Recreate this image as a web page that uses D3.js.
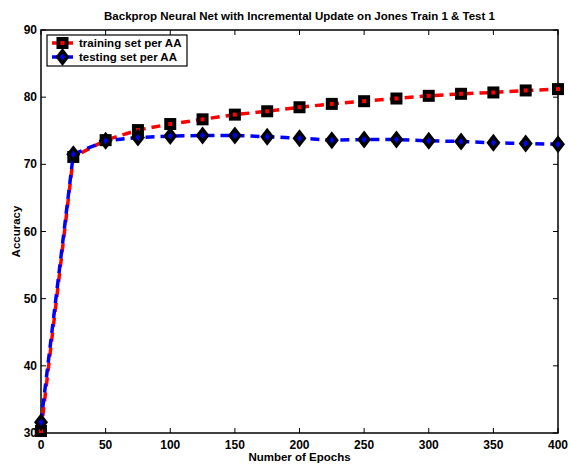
<!DOCTYPE html>
<html lang="en">
<head>
<meta charset="utf-8">
<title>Backprop Neural Net</title>
<script src="https://cdn.jsdelivr.net/npm/d3@7"></script>
<style>
  body { margin: 0; background: #fff; }
  text { font-family: "Liberation Sans", Arial, sans-serif; font-weight: bold; }
</style>
</head>
<body>
<script>
// data
var epochs   = [0, 25, 50, 75, 100, 125, 150, 175, 200, 225, 250, 275, 300, 325, 350, 375, 400];
var training = [30.3, 71.1, 73.6, 75.1, 76.0, 76.7, 77.4, 77.9, 78.5, 79.0, 79.4, 79.8, 80.2, 80.5, 80.7, 81.0, 81.2];
var testing  = [31.6, 71.5, 73.5, 74.0, 74.2, 74.3, 74.3, 74.1, 73.9, 73.6, 73.7, 73.7, 73.5, 73.4, 73.2, 73.1, 73.0];
var xTicks = [0, 50, 100, 150, 200, 250, 300, 350, 400];
var yTicks = [30, 40, 50, 60, 70, 80, 90];
var seriesNames = ["training set per AA", "testing set per AA"];

var w = 571, h = 464;
// plot box edges (don't use "top" - it's window.top)
var pLeft = 41, pRight = 558, pTop = 30, pBottom = 433;

var svg = d3.select("body").append("svg")
    .attr("width", w).attr("height", h);

var x = d3.scaleLinear().domain([0, 400]).range([pLeft, pRight]);
var y = d3.scaleLinear().domain([30, 90]).range([pBottom, pTop]);

// axes box
svg.append("rect")
    .attr("x", pLeft).attr("y", pTop)
    .attr("width", pRight - pLeft).attr("height", pBottom - pTop)
    .attr("fill", "none").attr("stroke", "#000").attr("stroke-width", 1.5);

// inward ticks on all four sides
var tl = 5;
xTicks.forEach(function(t) {
  svg.append("line").attr("x1", x(t)).attr("x2", x(t)).attr("y1", pBottom).attr("y2", pBottom - tl).attr("stroke", "#000");
  svg.append("line").attr("x1", x(t)).attr("x2", x(t)).attr("y1", pTop).attr("y2", pTop + tl).attr("stroke", "#000");
  svg.append("text").attr("x", x(t)).attr("y", pBottom + 16)
     .attr("text-anchor", "middle").attr("font-size", 12).text(t);
});
yTicks.forEach(function(t) {
  svg.append("line").attr("x1", pLeft).attr("x2", pLeft + tl).attr("y1", y(t)).attr("y2", y(t)).attr("stroke", "#000");
  svg.append("line").attr("x1", pRight).attr("x2", pRight - tl).attr("y1", y(t)).attr("y2", y(t)).attr("stroke", "#000");
  svg.append("text").attr("x", pLeft - 4).attr("y", y(t) + 4)
     .attr("text-anchor", "end").attr("font-size", 12).text(t);
});

// title and labels
svg.append("text").attr("x", (pLeft + pRight) / 2).attr("y", 20)
   .attr("text-anchor", "middle").attr("font-size", 11.5)
   .text("Backprop Neural Net with Incremental Update on Jones Train 1 & Test 1");
svg.append("text").attr("x", (pLeft + pRight) / 2).attr("y", 461)
   .attr("text-anchor", "middle").attr("font-size", 11.5).text("Number of Epochs");
svg.append("text").attr("transform", "translate(20," + ((pTop + pBottom) / 2) + ") rotate(-90)")
   .attr("text-anchor", "middle").attr("font-size", 11.5).text("Accuracy");

var line = d3.line().x(function(d) { return x(d[0]); }).y(function(d) { return y(d[1]); });

var series = [
  { vals: training, color: "#ff0000", shape: "square" },
  { vals: testing,  color: "#0000ff", shape: "diamond" }
];

function drawMarker(g, cx, cy, s) {
  if (s.shape === "square") {
    g.append("rect").attr("x", cx - 6).attr("y", cy - 6).attr("width", 12).attr("height", 12).attr("fill", "#000");
    g.append("rect").attr("x", cx - 2).attr("y", cy - 2).attr("width", 4).attr("height", 4).attr("fill", s.color);
  } else {
    g.append("path").attr("d", "M" + cx + "," + (cy - 9) + "L" + (cx + 7) + "," + cy + "L" + cx + "," + (cy + 9) + "L" + (cx - 7) + "," + cy + "Z").attr("fill", "#000");
    g.append("path").attr("d", "M" + cx + "," + (cy - 3.5) + "L" + (cx + 2.5) + "," + cy + "L" + cx + "," + (cy + 3.5) + "L" + (cx - 2.5) + "," + cy + "Z").attr("fill", s.color);
  }
}

series.forEach(function(s) {
  var pts = epochs.map(function(e, i) { return [e, s.vals[i]]; });
  svg.append("path").datum(pts).attr("d", line)
     .attr("fill", "none").attr("stroke", s.color).attr("stroke-width", 3.5)
     .attr("stroke-dasharray", "9,6");
  var g = svg.append("g");
  pts.forEach(function(p) { drawMarker(g, x(p[0]), y(p[1]), s); });
});

// legend
var lg = svg.append("g");
lg.append("rect").attr("x", 47).attr("y", 35).attr("width", 140).attr("height", 31)
  .attr("fill", "#fff").attr("stroke", "#000").attr("stroke-width", 1.2);
series.forEach(function(s, i) {
  var ly = 43 + i * 14;
  lg.append("line").attr("x1", 52).attr("x2", 73).attr("y1", ly).attr("y2", ly)
    .attr("stroke", s.color).attr("stroke-width", 3.5);
  drawMarker(lg, 62.5, ly, s);
  lg.append("text").attr("x", 79).attr("y", ly + 4).attr("font-size", 11.5).text(seriesNames[i]);
});
</script>
</body>
</html>
